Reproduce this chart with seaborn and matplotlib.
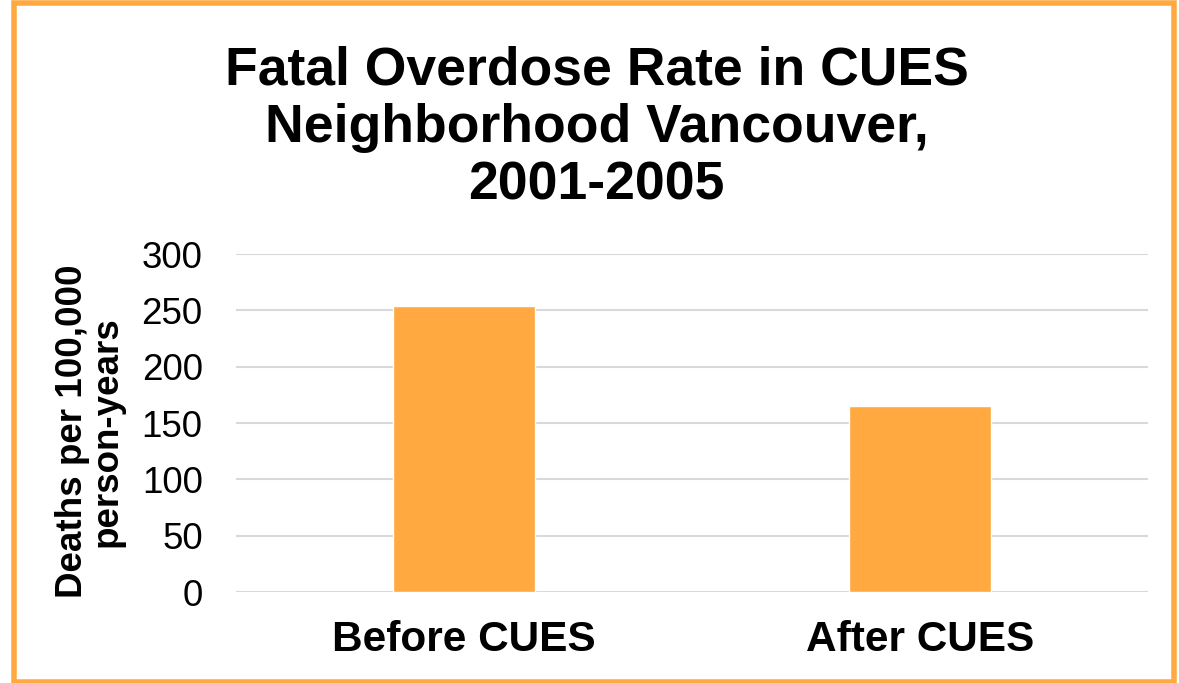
import matplotlib
matplotlib.use("Agg")
import matplotlib.pyplot as plt
from matplotlib.patches import Rectangle
import pandas as pd
import seaborn as sns

categories = ["Before CUES", "After CUES"]
rates = [254, 165]
y_ticks = [0, 50, 100, 150, 200, 250, 300]

ORANGE = "#FFA940"

sns.set_theme(style="whitegrid")
plt.rcParams["font.family"] = ["Liberation Sans", "DejaVu Sans"]

df = pd.DataFrame({"group": categories, "rate": rates})

fig = plt.figure(figsize=(11.79, 6.83), dpi=100)
ax = fig.add_axes([0.2002, 0.1332, 0.7735, 0.4949])

sns.barplot(data=df, x="group", y="rate", color=ORANGE, saturation=1,
            width=0.31, ax=ax)

ax.set_ylim(0, 300)
ax.set_yticks(y_ticks)
ax.grid(axis="y", color="#D9D9D9", linewidth=1.5)
ax.grid(axis="x", visible=False)
ax.set_axisbelow(True)
for s in ax.spines.values():
    s.set_visible(False)

ax.tick_params(axis="y", length=0, pad=24, labelsize=26.5, labelcolor="black")
ax.tick_params(axis="x", length=0, pad=20, labelsize=30.5, labelcolor="black")
for lbl in ax.get_xticklabels():
    lbl.set_fontweight("bold")

ax.set_xlabel("")
ax.set_ylabel("Deaths per 100,000\nperson-years", fontsize=26.5, fontweight="bold",
              color="black", linespacing=1.0)
ax.yaxis.set_label_coords(-0.122, 0.475)

fig.text(0.506, 0.934, "Fatal Overdose Rate in CUES\nNeighborhood Vancouver,\n2001-2005",
         ha="center", va="top", fontsize=38.5, fontweight="bold", color="black",
         linespacing=1.2)

# orange frame round the whole picture
fig.patches.append(Rectangle((0.012, 0.002), 0.984, 0.993, transform=fig.transFigure,
                             fill=False, edgecolor=ORANGE, linewidth=4))

fig.savefig("out.png", dpi=100)
